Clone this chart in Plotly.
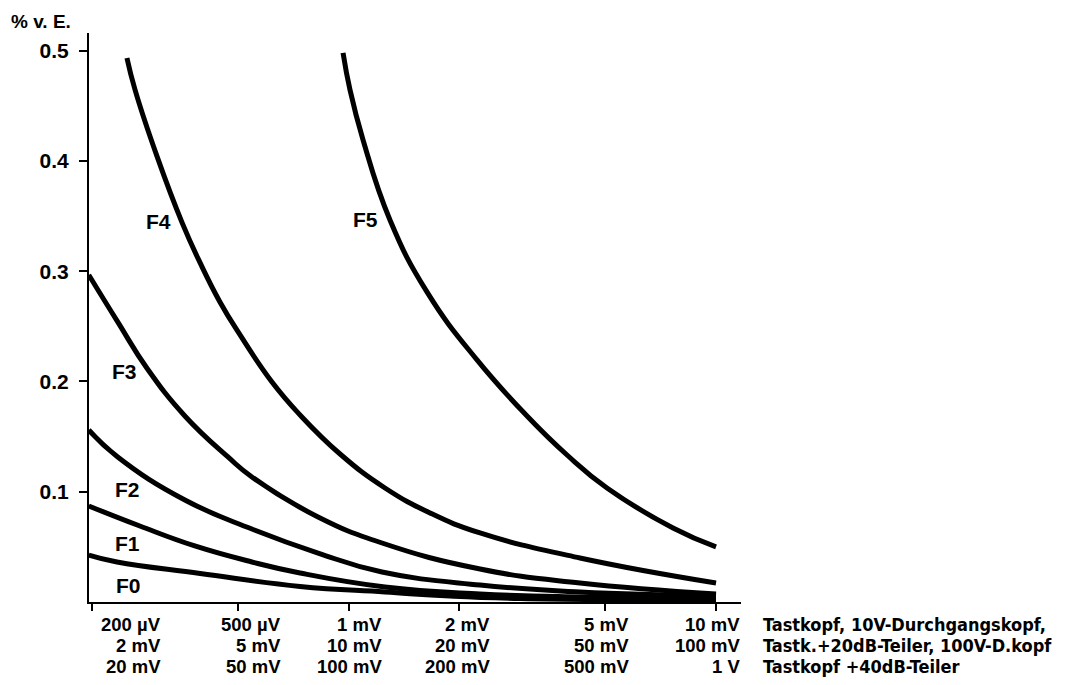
import math
import plotly.graph_objects as go

# ---- data (x in µV, y in % v. E.) ----
f5_x = [965, 1008, 1094, 1295, 1633, 2235, 3058, 3930, 5048, 7636, 10000]
f5_y = [0.498, 0.4644, 0.419, 0.3465, 0.2812, 0.2195, 0.1687, 0.1333, 0.1034, 0.0671, 0.0499]

f4_x = [249, 262, 301, 352, 394, 446, 506, 618, 737, 947, 1255, 1665, 2278, 4262, 10000]
f4_y = [0.4934, 0.4644, 0.4036, 0.3438, 0.3075, 0.2721, 0.2422, 0.1995, 0.1696, 0.1342,
        0.1034, 0.0807, 0.0626, 0.0399, 0.0172]

f3_x = [196, 235, 282, 358, 469, 545, 825, 1232, 2278, 4262, 10000]
f3_y = [0.2966, 0.2540, 0.2122, 0.1687, 0.1315, 0.1134, 0.0771, 0.0535, 0.0299, 0.0172, 0.0073]

f2_x = [196, 235, 358, 545, 825, 1232, 2278, 4262, 10000]
f2_y = [0.156, 0.1315, 0.0925, 0.0662, 0.0444, 0.0272, 0.0154, 0.0091, 0.0054]

f1_x = [196, 270, 381, 545, 737, 1255, 2278, 4262, 10000]
f1_y = [0.0871, 0.0689, 0.0508, 0.0363, 0.0263, 0.0136, 0.0073, 0.0045, 0.0032]

f0_x = [196, 234, 394, 737, 1255, 1887, 2926, 10000]
f0_y = [0.0426, 0.0363, 0.0259, 0.0141, 0.0091, 0.0054, 0.0032, 0.0018]

series = [("F0", f0_x, f0_y), ("F1", f1_x, f1_y), ("F2", f2_x, f2_y),
          ("F3", f3_x, f3_y), ("F4", f4_x, f4_y), ("F5", f5_x, f5_y)]

# curve labels
label_names = ["F0", "F1", "F2", "F3", "F4", "F5"]
label_x = [251, 250, 250, 245, 304, 1114]   # µV
label_y = [0.0154, 0.0532, 0.102, 0.209, 0.345, 0.3465]

# x ticks (µV) and three rows of labels
tick_vals = [200, 500, 1000, 2000, 5000, 10000]
row1 = ["200 µV", "500 µV", "1 mV", "2 mV", "5 mV", "10 mV"]
row2 = ["2 mV", "5 mV", "10 mV", "20 mV", "50 mV", "100 mV"]
row3 = ["20 mV", "50 mV", "100 mV", "200 mV", "500 mV", "1 V"]
row_notes = ["Tastkopf, 10V-Durchgangskopf,",
             "Tastk.+20dB-Teiler, 100V-D.kopf",
             "Tastkopf +40dB-Teiler"]

y_ticks = [0.1, 0.2, 0.3, 0.4, 0.5]
y_ticktext = ["0.1", "0.2", "0.3", "0.4", "0.5"]

# ---- figure ----
FONT = "Liberation Sans, Arial, sans-serif"
NARROW = "DejaVu Sans Condensed, Liberation Sans Narrow, Arial Narrow, sans-serif"

fig = go.Figure()
for name, xs, ys in series:
    fig.add_trace(go.Scatter(x=xs, y=ys, mode="lines", name=name,
                             line=dict(color="black", width=5, shape="spline", smoothing=1.3),
                             showlegend=False, hoverinfo="skip"))

for n, lx, ly in zip(label_names, label_x, label_y):
    fig.add_annotation(x=math.log10(lx), y=ly, text=n, showarrow=False,
                       font=dict(family=FONT, size=21, color="black", weight="bold"))

x_shift = [70, 44, 34, 32, 25, 25]
row_shift = [-22, -43, -64]
for i, v in enumerate(tick_vals):
    for r, rows in enumerate([row1, row2, row3]):
        fig.add_annotation(x=math.log10(v), y=0, xref="x", yref="y", text=rows[i],
                           showarrow=False, xanchor="right", yanchor="middle",
                           xshift=x_shift[i], yshift=row_shift[r], borderpad=0,
                           font=dict(family=FONT, size=18.5, color="black", weight="bold"))
for r, t in enumerate(row_notes):
    fig.add_annotation(x=1, y=0, xref="paper", yref="y", text=t, showarrow=False,
                       xanchor="left", yanchor="middle", xshift=21, yshift=row_shift[r],
                       borderpad=0,
                       font=dict(family=NARROW, size=18, color="black", weight="bold"))

fig.add_annotation(x=0, y=1, xref="paper", yref="paper", text="% v. E.",
                   showarrow=False, xanchor="right", yanchor="middle",
                   xshift=-16, yshift=12,
                   font=dict(family=FONT, size=19, color="black", weight="bold"))

x0 = math.log10(200) - 3 / 367.3
x1 = x0 + 652 / 367.3
fig.update_xaxes(type="log", range=[x0, x1], tickvals=tick_vals, showticklabels=False,
                 ticks="outside", ticklen=7, tickwidth=2, tickcolor="black",
                 showline=True, linecolor="black", linewidth=2, showgrid=False,
                 zeroline=False)
fig.update_yaxes(range=[0, 0.516], tickvals=y_ticks, ticktext=y_ticktext,
                 ticks="outside", ticklen=8, tickwidth=2, tickcolor="black",
                 ticklabelstandoff=6,
                 tickfont=dict(family=FONT, size=21, color="black", weight="bold"),
                 showline=True, linecolor="black", linewidth=2, showgrid=False,
                 zeroline=False)
# the page body adds an 8 px margin, so the figure is laid out 8 px smaller
fig.update_layout(width=1066, height=677, margin=dict(l=81, r=333, t=25, b=83),
                  paper_bgcolor="white", plot_bgcolor="white")
fig.write_html("out.html")
